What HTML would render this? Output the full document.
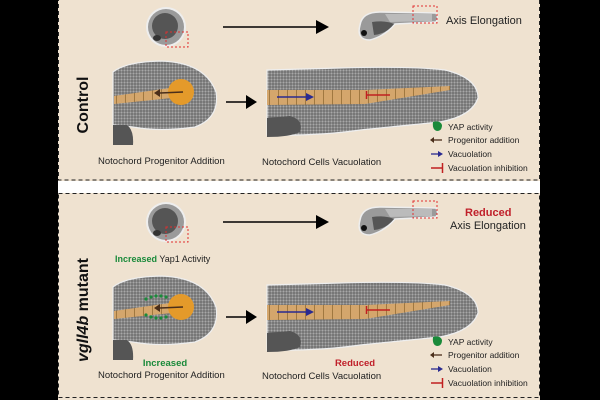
<!DOCTYPE html>
<html><head><meta charset="utf-8"><style>
html,body{margin:0;padding:0;background:#000;}
svg{display:block;}
text{font-family:"Liberation Sans",sans-serif;}
</style></head><body>
<svg width="600" height="400" viewBox="0 0 600 400" xmlns="http://www.w3.org/2000/svg">
<defs>
<pattern id="cells" width="3" height="3" patternUnits="userSpaceOnUse">
<rect width="3" height="3" fill="#6e6e6e"/><circle cx="1.5" cy="1.5" r="1.1" fill="#a8a8a8"/>
</pattern>
<pattern id="noto" width="9" height="14" patternUnits="userSpaceOnUse">
<rect width="9" height="14" fill="#d4a66c"/><rect x="8" width="1" height="14" fill="#a07840"/>
</pattern>
<g id="sceneTop">
  <circle cx="166" cy="27" r="20" fill="#eee" />
  <circle cx="166" cy="27" r="18" fill="#9a9a9a"/>
  <circle cx="165" cy="26" r="13" fill="#555"/>
  <ellipse cx="157" cy="38" rx="4" ry="3" fill="#333"/>
  <rect x="166" y="32" width="22" height="15" fill="none" stroke="#e03030" stroke-width="1" stroke-dasharray="2,2"/>
  <line x1="223" y1="27" x2="318" y2="27" stroke="#000" stroke-width="1.6"/>
  <polygon points="316,20 329,27 316,34" fill="#000"/>
  <path d="M360,25 Q362,12 380,12 L436,13 Q439,18 436,22 L395,24 Q385,36 370,40 Q356,40 360,25Z" fill="#9a9a9a" stroke="#eee" stroke-width="1.5"/>
  <path d="M385,14 L432,14 L432,21 L390,22Z" fill="#bbb"/>
  <path d="M372,22 Q385,20 394,24 Q386,34 374,35Z" fill="#555"/>
  <circle cx="364" cy="33" r="3" fill="#111"/>
  <rect x="413" y="6" width="24" height="17" fill="none" stroke="#e03030" stroke-width="1" stroke-dasharray="2,2"/>
</g>
<g id="sceneBot">
  <path d="M113,72 Q125,62 160,61 Q205,62 216,92 Q220,118 195,127 Q160,132 133,127 L113,125Z" fill="url(#cells)" stroke="#eee" stroke-width="1.2"/>
  <path d="M113,125 L127,125 Q134,130 133,145 L113,145Z" fill="#555"/>
  <path d="M114,96 L170,88 L172,98 L114,104Z" fill="url(#noto)"/>
  <circle cx="181" cy="92" r="13" fill="#e49a2a"/>
  <line x1="183" y1="92" x2="160" y2="93" stroke="#4a2e1a" stroke-width="1.5"/>
  <polygon points="160,89 154,93 160,97" fill="#4a2e1a"/>
  <line x1="226" y1="102" x2="248" y2="102" stroke="#000" stroke-width="1.6"/>
  <polygon points="246,95 257,102 246,109" fill="#000"/>
  <path d="M267,70 L340,68 Q410,66 445,70 Q478,78 478,98 Q472,116 440,122 L360,130 Q320,136 267,135Z" fill="url(#cells)" stroke="#eee" stroke-width="1.2"/>
  <path d="M267,118 L290,116 Q304,120 300,132 Q290,137 267,137Z" fill="#555"/>
  <path d="M267,90 L365,90 L450,86 L450,90 L365,104 L267,105Z" fill="url(#noto)"/>
  <line x1="277" y1="97" x2="308" y2="97" stroke="#2a2a90" stroke-width="1.6"/>
  <polygon points="306,93 314,97 306,101" fill="#2a2a90"/>
  <line x1="367" y1="95" x2="390" y2="95" stroke="#c02020" stroke-width="1.5"/>
  <line x1="366.5" y1="91" x2="366.5" y2="99" stroke="#c02020" stroke-width="1.5"/>
  <path d="M433,122 Q440,120 442,125 Q442,131 437,131 Q432,130 433,122Z" fill="#1a8a3a"/>
  <line x1="434" y1="140" x2="442" y2="140" stroke="#4a2e1a" stroke-width="1.3"/>
  <polygon points="434,137 430,140 434,143" fill="#4a2e1a"/>
  <line x1="431" y1="154" x2="438" y2="154" stroke="#2a2a90" stroke-width="1.3"/>
  <polygon points="438,151 443,154 438,157" fill="#2a2a90"/>
  <line x1="431" y1="168" x2="442" y2="168" stroke="#c02020" stroke-width="1.5"/>
  <line x1="442.5" y1="163" x2="442.5" y2="173" stroke="#c02020" stroke-width="1.5"/>
</g>
</defs>
<rect x="0" y="0" width="600" height="400" fill="#000"/>
<rect x="58" y="0" width="482" height="400" fill="#fff"/>
<rect x="58" y="0" width="482" height="181" fill="#efe2d0"/>
<rect x="58" y="193" width="482" height="207" fill="#efe2d0"/>
<rect x="58.5" y="-2" width="481" height="182" fill="none" stroke="#222" stroke-width="1" stroke-dasharray="4,3"/>
<rect x="58.5" y="193.5" width="481" height="204" fill="none" stroke="#222" stroke-width="1" stroke-dasharray="4,3"/>

<use href="#sceneTop"/>
<use href="#sceneBot"/>
<g font-size="9.5" fill="#222">
<text x="446" y="24" font-size="11">Axis Elongation</text>
<text x="98" y="164">Notochord Progenitor Addition</text>
<text x="262" y="165">Notochord Cells Vacuolation</text>
<text x="448" y="130" font-size="8.5">YAP activity</text>
<text x="448" y="143" font-size="8.5">Progenitor addition</text>
<text x="448" y="157" font-size="8.5">Vacuolation</text>
<text x="448" y="171" font-size="8.5">Vacuolation inhibition</text>
</g>
<text transform="translate(88,105) rotate(-90)" text-anchor="middle" font-size="16" font-weight="bold" fill="#111">Control</text>

<use href="#sceneTop" transform="translate(0,195)"/>
<use href="#sceneBot" transform="translate(0,215)"/>
<g fill="#1a8a3a">
<circle cx="146" cy="299" r="1.6"/><circle cx="151" cy="297" r="1.6"/><circle cx="156" cy="296" r="1.6"/><circle cx="161" cy="296" r="1.6"/><circle cx="166" cy="297" r="1.6"/>
<circle cx="146" cy="315" r="1.6"/><circle cx="151" cy="317" r="1.6"/><circle cx="156" cy="318" r="1.6"/><circle cx="161" cy="318" r="1.6"/><circle cx="166" cy="317" r="1.6"/>
</g>
<g font-size="9.5" fill="#222">
<text x="465" y="216" font-size="11" font-weight="bold" fill="#c0202a">Reduced</text>
<text x="450" y="229" font-size="11">Axis Elongation</text>
<text x="115" y="262" font-size="9"><tspan fill="#1a8a3a" font-weight="bold">Increased</tspan> Yap1 Activity</text>
<text x="165" y="366" text-anchor="middle" font-weight="bold" fill="#1a8a3a">Increased</text>
<text x="98" y="378">Notochord Progenitor Addition</text>
<text x="355" y="366" text-anchor="middle" font-weight="bold" fill="#c0202a">Reduced</text>
<text x="262" y="379">Notochord Cells Vacuolation</text>
<text x="448" y="345" font-size="8.5">YAP activity</text>
<text x="448" y="358" font-size="8.5">Progenitor addition</text>
<text x="448" y="372" font-size="8.5">Vacuolation</text>
<text x="448" y="386" font-size="8.5">Vacuolation inhibition</text>
</g>
<text transform="translate(88,310) rotate(-90)" text-anchor="middle" font-size="16" font-weight="bold" fill="#111"><tspan font-style="italic">vgll4b</tspan> mutant</text>
</svg>
</body></html>
